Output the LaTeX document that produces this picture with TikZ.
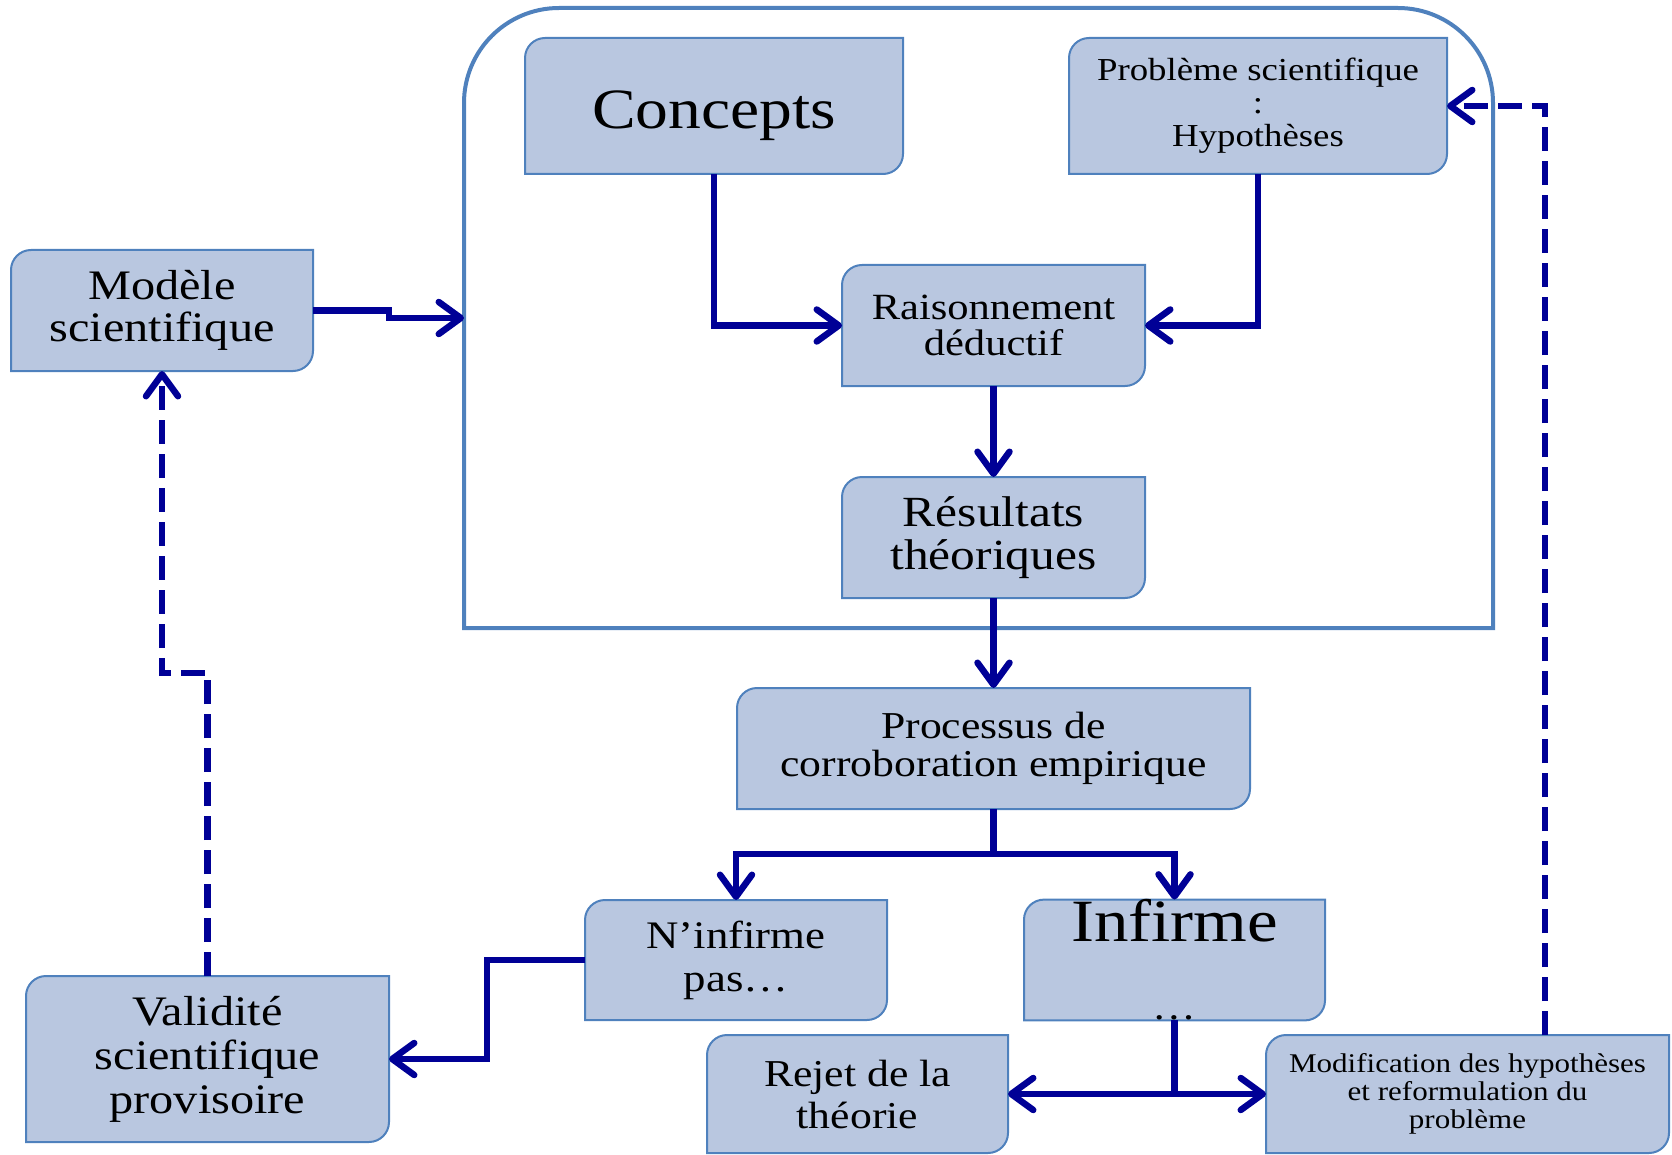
\documentclass[tikz,border=0pt]{standalone}
\usepackage{fontspec}
\setmainfont{Liberation Serif}[FakeStretch=1.15]
\usepackage{tikz}
\usetikzlibrary{arrows.meta,backgrounds,calc}
\definecolor{myfill}{RGB}{185,199,224}
\definecolor{myborder}{RGB}{79,129,189}
\definecolor{mynavy}{RGB}{0,0,150}
\tikzstyle{boite}=[inner sep=0pt,outer sep=0pt,align=center]
\tikzstyle{contour}=[draw=myborder,fill=myfill,line width=2pt]
\tikzstyle{fleche}=[draw=mynavy,line width=6.5pt,-{Straight Barb[length=22pt,width=32pt,round]}]
\tikzstyle{pointille}=[fleche,dash pattern=on 24pt off 10pt]

\begin{document}
\begin{tikzpicture}[x=1pt,y=-1pt]
\useasboundingbox (0,0) rectangle (1672,1155);

\node[boite,minimum width=378pt,minimum height=136pt,text height=58pt,text depth=12pt,font=\fontsize{57}{57}\selectfont] (concepts) at (714,106) {Concepts};
\node[boite,minimum width=378pt,minimum height=136pt,font=\fontsize{32}{33}\selectfont] (probleme) at (1258,106) {Problème scientifique\\:\\Hypothèses};
\node[boite,minimum width=302pt,minimum height=121pt,font=\fontsize{42}{42}\selectfont] (modele) at (162,310.5) {Modèle\\scientifique};
\node[boite,minimum width=303pt,minimum height=121pt,font=\fontsize{37}{36}\selectfont] (raisonnement) at (993.5,325.5) {Raisonnement\\déductif};
\node[boite,minimum width=303pt,minimum height=121pt,font=\fontsize{43}{43}\selectfont] (resultats) at (993.5,537.5) {Résultats\\théoriques};
\node[boite,minimum width=513pt,minimum height=121pt,font=\fontsize{38}{38}\selectfont] (processus) at (993.5,748.5) {Processus de\\corroboration empirique};
\node[boite,minimum width=302pt,minimum height=120pt,font=\fontsize{39}{43}\selectfont] (ninfirme) at (736,960) {N’infirme\\pas…};
\node[boite,minimum width=301pt,minimum height=120pt,font=\fontsize{60}{78}\selectfont] (infirme) at (1174.5,960) {Infirme\\{\fontsize{38}{38}\selectfont …}};
\node[boite,minimum width=363pt,minimum height=166pt,font=\fontsize{42}{44}\selectfont] (validite) at (207.5,1059) {Validité\\scientifique\\provisoire};
\node[boite,minimum width=301pt,minimum height=118pt,font=\fontsize{38}{42}\selectfont] (rejet) at (857.5,1094) {Rejet de la\\théorie};
\node[boite,minimum width=403pt,minimum height=118pt,font=\fontsize{27}{28}\selectfont] (modification) at (1467.5,1094) {Modification des hypothèses\\et reformulation du\\problème};

\coordinate (entree) at (464,318);
\coordinate (retour) at (1545,1035);

\begin{scope}[on background layer]
\draw[myborder,line width=4pt] (464,628) -- (464,103) arc[start angle=180,end angle=90,radius=95pt] -- (1398,8) arc[start angle=90,end angle=0,radius=95pt] -- (1493,628) -- cycle;
\foreach \n in {concepts,probleme,modele,raisonnement,resultats,processus,ninfirme,infirme,validite,rejet,modification}
  \draw[contour] (\n.north east) -- ([xshift=20pt]\n.north west) arc[start angle=90,end angle=180,radius=20pt] -- (\n.south west) -- ([xshift=-20pt]\n.south east) arc[start angle=270,end angle=360,radius=20pt] -- cycle;
\end{scope}

\draw[fleche] (concepts.south) |- (raisonnement.west);
\draw[fleche] (probleme.south) |- (raisonnement.east);
\draw[fleche] (raisonnement.south) -- (resultats.north);
\draw[fleche] (resultats.south) -- (processus.north);
\draw[fleche] (processus.south) -- ++(0,45) -| (ninfirme.north);
\draw[fleche] (processus.south) -- ++(0,45) -| (infirme.north);
\draw[fleche] (ninfirme.west) -- ++(-98,0) |- (validite.east);
\draw[fleche] (infirme.south) |- (rejet.east);
\draw[fleche] (infirme.south) |- (modification.west);
\draw[fleche] (modele.east) -- ++(76,0) |- (entree);
\draw[pointille] (validite.north) -- ++(0,-303) -| (modele.south);
\draw[pointille] (retour) |- (probleme.east);
\end{tikzpicture}
\end{document}
